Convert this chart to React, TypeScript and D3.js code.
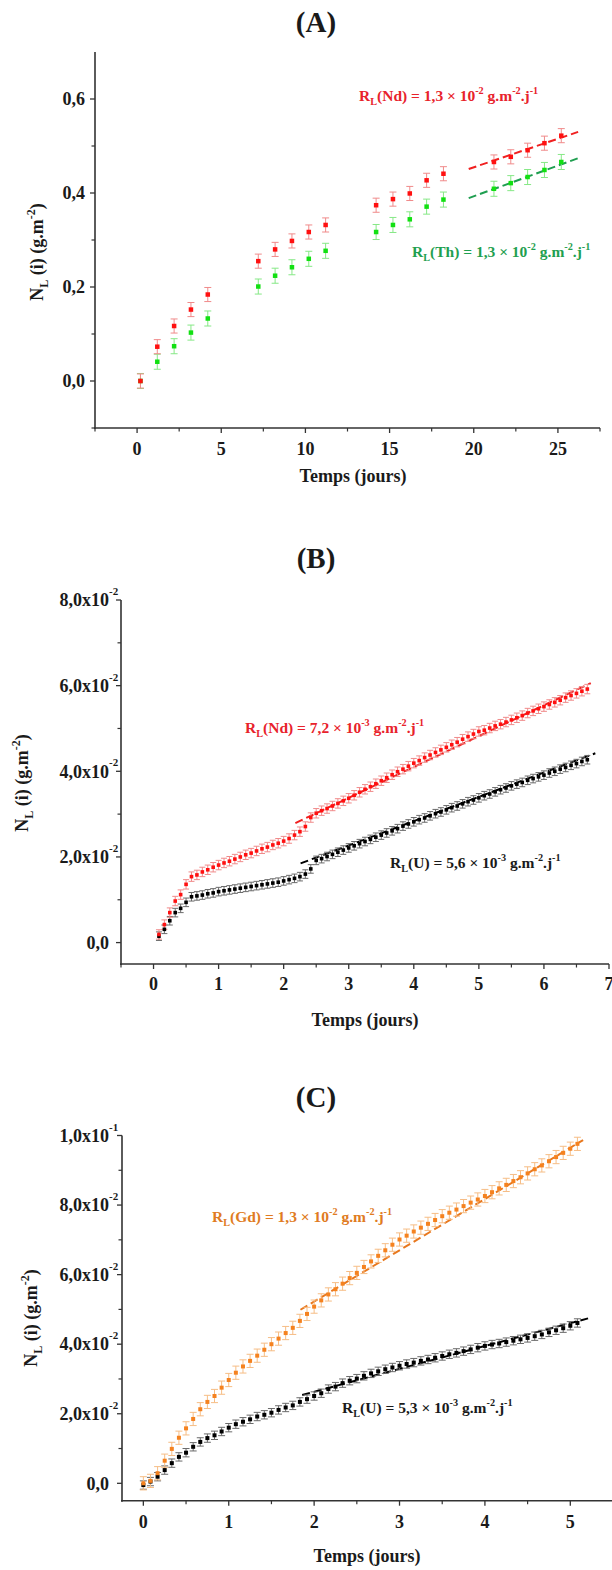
import React from 'react';
import * as d3 from 'd3';

const FONT = '"Liberation Serif", "Times New Roman", serif';
const INK = '#1a1a1a';

// ---------- Panel A ----------
const A_days = [0.2, 1.2, 2.2, 3.2, 4.2, 7.2, 8.2, 9.2, 10.2, 11.2, 14.2, 15.2, 16.2, 17.2, 18.2, 21.2, 22.2, 23.2, 24.2, 25.2];
const A_Nd = [0.0, 0.073, 0.117, 0.152, 0.184, 0.255, 0.28, 0.298, 0.317, 0.332, 0.374, 0.387, 0.399, 0.427, 0.441, 0.466, 0.477, 0.491, 0.506, 0.522];
const A_Th = [0.0, 0.041, 0.074, 0.103, 0.133, 0.201, 0.224, 0.242, 0.26, 0.277, 0.317, 0.332, 0.344, 0.371, 0.386, 0.409, 0.421, 0.434, 0.449, 0.466];
const A_Nd_err = 0.015;
const A_Th_err = 0.016;
const A_Nd_fit = [[19.7, 0.451], [26.2, 0.53]];
const A_Th_fit = [[19.7, 0.389], [26.2, 0.474]];
const A_xTicks = [0, 5, 10, 15, 20, 25];
const A_xMinor = [-2.5, 2.5, 7.5, 12.5, 17.5, 22.5, 27.5];
const A_yTicks = [0, 0.2, 0.4, 0.6];
const A_yTickLabels = [['0,0', ''], ['0,2', ''], ['0,4', ''], ['0,6', '']];
const A_yMinor = [-0.1, 0.1, 0.3, 0.5];

// ---------- Panel B ----------
const B_hours = [2, 4, 6, 8, 10, 12, 14, 16, 18, 20, 22, 24, 26, 28, 30, 32, 34, 36, 38, 40, 42, 44, 46, 48, 50, 52, 54, 56, 58, 60, 62, 64, 66, 68, 70, 72, 74, 76, 78, 80, 82, 84, 86, 88, 90, 92, 94, 96, 98, 100, 102, 104, 106, 108, 110, 112, 114, 116, 118, 120, 122, 124, 126, 128, 130, 132, 134, 136, 138, 140, 142, 144, 146, 148, 150, 152, 154, 156, 158, 160];
const B_Nd = [
  0.0019, 0.0042, 0.007, 0.0097, 0.0112, 0.0136, 0.0154, 0.0158, 0.0165, 0.017, 0.0176, 0.0181,
  0.0186, 0.019, 0.0195, 0.02, 0.0205, 0.0209, 0.0214, 0.0219, 0.0223, 0.0228, 0.0232, 0.0237,
  0.0243, 0.0251, 0.0259, 0.0271, 0.0292, 0.0302, 0.0308, 0.0313, 0.0319, 0.0325, 0.0331, 0.0337,
  0.0344, 0.0351, 0.0358, 0.0364, 0.0371, 0.0378, 0.0385, 0.0392, 0.0399, 0.0405, 0.0412, 0.0419,
  0.0425, 0.0432, 0.0438, 0.0444, 0.045, 0.0456, 0.0462, 0.0468, 0.0475, 0.0481, 0.0487, 0.0493,
  0.0496, 0.0501, 0.0506, 0.051, 0.0515, 0.052, 0.0525, 0.053, 0.0536, 0.0541, 0.0546, 0.0551,
  0.0556, 0.0561, 0.0566, 0.0572, 0.0577, 0.0582, 0.0587, 0.0592,
];
const B_U = [
  0.0015, 0.0031, 0.0051, 0.007, 0.008, 0.0094, 0.0107, 0.0109, 0.0111, 0.0114, 0.0116, 0.0119,
  0.0121, 0.0123, 0.0125, 0.0127, 0.0129, 0.0131, 0.0133, 0.0135, 0.0137, 0.0139, 0.0141, 0.0144,
  0.0147, 0.015, 0.0154, 0.016, 0.0172, 0.0192, 0.0196, 0.0201, 0.0206, 0.0211, 0.0216, 0.0221,
  0.0226, 0.0231, 0.0236, 0.0241, 0.0246, 0.0251, 0.0256, 0.0261, 0.0266, 0.0272, 0.0277, 0.0282,
  0.0287, 0.0291, 0.0296, 0.0301, 0.0305, 0.031, 0.0315, 0.0319, 0.0324, 0.0329, 0.0333, 0.0338,
  0.0343, 0.0347, 0.0352, 0.0357, 0.0361, 0.0366, 0.037, 0.0374, 0.0379, 0.0383, 0.0387, 0.0391,
  0.0396, 0.04, 0.0405, 0.0409, 0.0414, 0.0418, 0.0423, 0.0427,
];
const B_Nd_err = 0.0011;
const B_U_err = 0.001;
const B_Nd_fit = [[2.18, 0.0279], [6.72, 0.0606]];
const B_U_fit = [[2.26, 0.0185], [6.79, 0.0442]];
const B_xTicks = [0, 1, 2, 3, 4, 5, 6, 7];
const B_xMinor = [-0.5, 0.5, 1.5, 2.5, 3.5, 4.5, 5.5, 6.5];
const B_yTicks = [0, 0.02, 0.04, 0.06, 0.08];
const B_yTickLabels = [['0,0', ''], ['2,0x10', '-2'], ['4,0x10', '-2'], ['6,0x10', '-2'], ['8,0x10', '-2']];
const B_yMinor = [0.01, 0.03, 0.05, 0.07];

// ---------- Panel C ----------
const C_hours = [0, 2, 4, 6, 8, 10, 12, 14, 16, 18, 20, 22, 24, 26, 28, 30, 32, 34, 36, 38, 40, 42, 44, 46, 48, 50, 52, 54, 56, 58, 60, 62, 64, 66, 68, 70, 72, 74, 76, 78, 80, 82, 84, 86, 88, 90, 92, 94, 96, 98, 100, 102, 104, 106, 108, 110, 112, 114, 116, 118, 120, 122];
const C_Gd = [
  0.0, 0.0007, 0.0029, 0.0065, 0.0099, 0.0131, 0.0158, 0.0185, 0.0213, 0.0234, 0.0251, 0.0275,
  0.0297, 0.0318, 0.0336, 0.0352, 0.0367, 0.0384, 0.04, 0.0416, 0.0432, 0.0447, 0.0467, 0.0487,
  0.0508, 0.0526, 0.0543, 0.0558, 0.0574, 0.059, 0.0605, 0.0622, 0.0638, 0.0654, 0.067, 0.0686,
  0.0701, 0.0712, 0.0724, 0.0735, 0.0746, 0.0757, 0.0768, 0.0778, 0.0787, 0.0797, 0.0807, 0.0816,
  0.0826, 0.0837, 0.0848, 0.0858, 0.0869, 0.088, 0.0891, 0.0903, 0.0914, 0.0926, 0.0938, 0.095,
  0.0962, 0.0976,
];
const C_U = [
  -0.0005, 0.0005, 0.0019, 0.0038, 0.0058, 0.0076, 0.0088, 0.0105, 0.0119, 0.013, 0.0138, 0.0149,
  0.016, 0.017, 0.0177, 0.0184, 0.0192, 0.0197, 0.0203, 0.0211, 0.0218, 0.0224, 0.0234, 0.0242,
  0.0251, 0.0259, 0.0271, 0.0278, 0.0288, 0.0295, 0.0301, 0.0309, 0.0316, 0.0322, 0.0328, 0.0333,
  0.0338, 0.0343, 0.0347, 0.0352, 0.0356, 0.0361, 0.0366, 0.0371, 0.0375, 0.038, 0.0385, 0.039,
  0.0395, 0.0399, 0.0402, 0.0406, 0.041, 0.0414, 0.0418, 0.0423, 0.0428, 0.0434, 0.044, 0.0446,
  0.0453, 0.0461,
];
const C_Gd_err = 0.0019;
const C_U_err = 0.0012;
const C_Gd_fit = [[1.84, 0.0499], [5.15, 0.0987]];
const C_U_fit = [[1.86, 0.0254], [5.25, 0.0477]];
const C_xTicks = [0, 1, 2, 3, 4, 5];
const C_xMinor = [0.5, 1.5, 2.5, 3.5, 4.5, 5.5];
const C_yTicks = [0, 0.02, 0.04, 0.06, 0.08, 0.1];
const C_yTickLabels = [['0,0', ''], ['2,0x10', '-2'], ['4,0x10', '-2'], ['6,0x10', '-2'], ['8,0x10', '-2'], ['1,0x10', '-1']];
const C_yMinor = [0.01, 0.03, 0.05, 0.07, 0.09];

type Seg = { t: string; sub?: boolean; sup?: boolean };

function Rich(props: { segs: Seg[]; x: number; y: number; size: number; fill: string; anchor?: string; transform?: string }) {
  const { segs, x, y, size, fill, anchor = 'start', transform } = props;
  let offset = 0;
  const kids = segs.map((s, i) => {
    const target = s.sup ? -0.42 * size : s.sub ? 0.28 * size : 0;
    const dy = target - offset;
    offset = target;
    return (
      <tspan key={i} dy={dy} fontSize={s.sup || s.sub ? size * 0.66 : size}>
        {s.t}
      </tspan>
    );
  });
  return (
    <text x={x} y={y} fill={fill} fontFamily={FONT} fontWeight="bold" fontSize={size} textAnchor={anchor}
      transform={transform} style={{ whiteSpace: 'pre' }}>
      {kids}
    </text>
  );
}

const rateSegs = (el: string, mant: string, exp: string): Seg[] => [
  { t: 'R' }, { t: 'L', sub: true }, { t: `(${el}) = ${mant} × 10` }, { t: exp, sup: true },
  { t: ' g.m' }, { t: '-2', sup: true }, { t: '.j' }, { t: '-1', sup: true },
];
const yLabelSegs: Seg[] = [{ t: 'N' }, { t: 'L', sub: true }, { t: ' (i) (g.m' }, { t: '-2', sup: true }, { t: ')' }];

type Series = { days: number[]; vals: number[]; err: number; color: string; errColor: string; size: number; cap: number };
type Fit = { pts: number[][]; color: string };
type Note = { segs: Seg[]; x: number; y: number; color: string };

type PanelCfg = {
  title: string; titleX: number; titleY: number;
  left: number; right: number; top: number; bottom: number;
  xDomain: number[]; yDomain: number[];
  xTicks: number[]; xMinor: number[]; yTicks: number[]; yTickLabels: string[][]; yMinor: number[];
  yLabEnd: number; xLabDy: number;
  xTitleX: number; xTitleY: number; yTitleX: number; yTitleY: number;
  series: Series[]; fits: Fit[]; notes: Note[];
};

function Panel({ c }: { c: PanelCfg }) {
  const x = d3.scaleLinear().domain(c.xDomain).range([c.left, c.right]);
  const y = d3.scaleLinear().domain(c.yDomain).range([c.bottom, c.top]);
  const line = d3.line<number[]>().x((d) => x(d[0])).y((d) => y(d[1]));
  const axisColor = '#333';
  return (
    <g>
      <text x={c.titleX} y={c.titleY} textAnchor="middle" fontFamily={FONT} fontWeight="bold" fontSize={29} fill={INK}>
        {c.title}
      </text>
      {/* axes */}
      <line x1={c.left} x2={c.left} y1={c.top} y2={c.bottom + 1} stroke={axisColor} strokeWidth={1.6} />
      <line x1={c.left - 1} x2={c.right} y1={c.bottom} y2={c.bottom} stroke={axisColor} strokeWidth={1.6} />
      {c.xTicks.map((t) => (
        <g key={'xt' + t}>
          <line x1={x(t)} x2={x(t)} y1={c.bottom} y2={c.bottom + 5} stroke={axisColor} strokeWidth={1.3} />
          <text x={x(t)} y={c.bottom + c.xLabDy} textAnchor="middle" fontFamily={FONT} fontWeight="bold" fontSize={18} fill={INK}>
            {t}
          </text>
        </g>
      ))}
      {c.xMinor.map((t) => (
        <line key={'xm' + t} x1={x(t)} x2={x(t)} y1={c.bottom} y2={c.bottom + 3.5} stroke={axisColor} strokeWidth={1.2} />
      ))}
      {c.yTicks.map((t, i) => (
        <g key={'yt' + t}>
          <line x1={c.left - 5} x2={c.left} y1={y(t)} y2={y(t)} stroke={axisColor} strokeWidth={1.3} />
          <text x={c.yLabEnd} y={y(t)} dy="0.35em" textAnchor="end" fontFamily={FONT} fontWeight="bold" fontSize={18} fill={INK}>
            {c.yTickLabels[i][0]}
          </text>
          {c.yTickLabels[i][1] ? (
            <text x={c.yLabEnd} y={y(t) - 5} textAnchor="start" fontFamily={FONT} fontWeight="bold" fontSize={11} fill={INK}>
              {c.yTickLabels[i][1]}
            </text>
          ) : null}
        </g>
      ))}
      {c.yMinor.map((t) => (
        <line key={'ym' + t} x1={c.left - 3.5} x2={c.left} y1={y(t)} y2={y(t)} stroke={axisColor} strokeWidth={1.2} />
      ))}
      <text x={c.xTitleX} y={c.xTitleY} textAnchor="middle" fontFamily={FONT} fontWeight="bold" fontSize={18} fill={INK}>
        Temps (jours)
      </text>
      <Rich segs={yLabelSegs} x={0} y={0} size={18} fill={INK} anchor="middle"
        transform={`translate(${c.yTitleX},${c.yTitleY}) rotate(-90)`} />
      {/* fits */}
      {c.fits.map((f, i) => (
        <path key={'f' + i} d={line(f.pts) || ''} stroke={f.color} strokeWidth={2} strokeDasharray="8,4" fill="none" />
      ))}
      {/* error bars */}
      {c.series.map((s, si) => (
        <g key={'e' + si} stroke={s.errColor} strokeWidth={1}>
          {s.vals.map((v, i) => {
            const xx = x(s.days[i]);
            const y1 = y(v - s.err);
            const y2 = y(v + s.err);
            return (
              <g key={i}>
                <line x1={xx} x2={xx} y1={y1} y2={y2} />
                <line x1={xx - s.cap / 2} x2={xx + s.cap / 2} y1={y1} y2={y1} />
                <line x1={xx - s.cap / 2} x2={xx + s.cap / 2} y1={y2} y2={y2} />
              </g>
            );
          })}
        </g>
      ))}
      {/* markers */}
      {c.series.map((s, si) => (
        <g key={'m' + si} fill={s.color}>
          {s.vals.map((v, i) => (
            <rect key={i} x={x(s.days[i]) - s.size / 2} y={y(v) - s.size / 2} width={s.size} height={s.size} />
          ))}
        </g>
      ))}
      {c.notes.map((n, i) => (
        <Rich key={'n' + i} segs={n.segs} x={n.x} y={n.y} size={15.5} fill={n.color} />
      ))}
    </g>
  );
}

const RED = '#ff1010';
const RED_ERR = '#f08a8a';
const GREEN = '#12e012';
const GREEN_ERR = '#86e886';
const ORANGE = '#f5821f';
const ORANGE_ERR = '#f6bd85';
const BLACK = '#000';
const BLACK_ERR = '#6a6a6a';

const toDays = (h: number[]) => h.map((v) => v / 24);

const panels: PanelCfg[] = [
  {
    title: '(A)', titleX: 316, titleY: 32,
    left: 95, right: 600, top: 52, bottom: 428,
    xDomain: [-2.5, 27.5], yDomain: [-0.1, 0.7],
    xTicks: A_xTicks, xMinor: A_xMinor, yTicks: A_yTicks, yTickLabels: A_yTickLabels, yMinor: A_yMinor,
    yLabEnd: 85, xLabDy: 27,
    xTitleX: 353, xTitleY: 482, yTitleX: 43, yTitleY: 252,
    series: [
      { days: A_days, vals: A_Th, err: A_Th_err, color: GREEN, errColor: GREEN_ERR, size: 4.5, cap: 7 },
      { days: A_days, vals: A_Nd, err: A_Nd_err, color: RED, errColor: RED_ERR, size: 4.5, cap: 7 },
    ],
    fits: [
      { pts: A_Nd_fit, color: '#f02020' },
      { pts: A_Th_fit, color: '#1f9e50' },
    ],
    notes: [
      { segs: rateSegs('Nd', '1,3', '-2'), x: 359, y: 101, color: '#e8222b' },
      { segs: rateSegs('Th', '1,3', '-2'), x: 412, y: 257, color: '#1fa050' },
    ],
  },
  {
    title: '(B)', titleX: 316, titleY: 568,
    left: 121, right: 609, top: 600, bottom: 964,
    xDomain: [-0.5, 7], yDomain: [-0.005, 0.08],
    xTicks: B_xTicks, xMinor: B_xMinor, yTicks: B_yTicks, yTickLabels: B_yTickLabels, yMinor: B_yMinor,
    yLabEnd: 109, xLabDy: 26,
    xTitleX: 365, xTitleY: 1026, yTitleX: 28, yTitleY: 783,
    series: [
      { days: toDays(B_hours), vals: B_U, err: B_U_err, color: BLACK, errColor: BLACK_ERR, size: 3.6, cap: 6 },
      { days: toDays(B_hours), vals: B_Nd, err: B_Nd_err, color: RED, errColor: RED_ERR, size: 3.6, cap: 6 },
    ],
    fits: [
      { pts: B_Nd_fit, color: '#f02020' },
      { pts: B_U_fit, color: '#000' },
    ],
    notes: [
      { segs: rateSegs('Nd', '7,2', '-3'), x: 245, y: 733, color: '#e8222b' },
      { segs: rateSegs('U', '5,6', '-3'), x: 390, y: 868, color: INK },
    ],
  },
  {
    title: '(C)', titleX: 316, titleY: 1107,
    left: 122, right: 613, top: 1135.5, bottom: 1500.7,
    xDomain: [-0.25, 5.5], yDomain: [-0.005, 0.1],
    xTicks: C_xTicks, xMinor: C_xMinor, yTicks: C_yTicks, yTickLabels: C_yTickLabels, yMinor: C_yMinor,
    yLabEnd: 109, xLabDy: 27,
    xTitleX: 367, xTitleY: 1562, yTitleX: 37, yTitleY: 1318,
    series: [
      { days: toDays(C_hours), vals: C_U, err: C_U_err, color: BLACK, errColor: BLACK_ERR, size: 4, cap: 7 },
      { days: toDays(C_hours), vals: C_Gd, err: C_Gd_err, color: ORANGE, errColor: ORANGE_ERR, size: 4, cap: 7 },
    ],
    fits: [
      { pts: C_Gd_fit, color: '#e8781e' },
      { pts: C_U_fit, color: '#000' },
    ],
    notes: [
      { segs: rateSegs('Gd', '1,3', '-2'), x: 212, y: 1222, color: '#e07b22' },
      { segs: rateSegs('U', '5,3', '-3'), x: 342, y: 1413, color: INK },
    ],
  },
];

export default function App() {
  return (
    <svg width={612} height={1570} style={{ position: 'absolute', left: 0, top: 0, background: '#fff' }}>
      <rect x={0} y={0} width={612} height={1570} fill="#fff" />
      {panels.map((p, i) => (
        <Panel key={i} c={p} />
      ))}
    </svg>
  );
}
